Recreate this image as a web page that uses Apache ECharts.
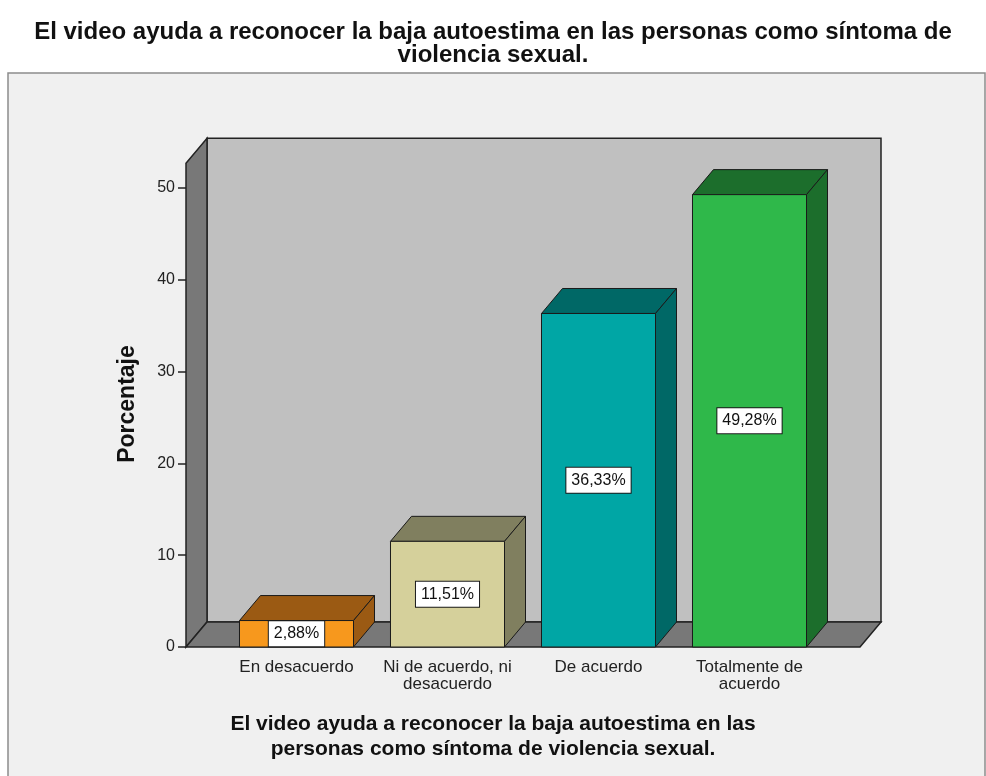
<!DOCTYPE html>
<html>
<head>
<meta charset="utf-8">
<script src="https://cdn.jsdelivr.net/npm/echarts@6/dist/echarts.min.js"></script>
<style>
  html, body { margin: 0; padding: 0; background: #ffffff; }
  #chart { width: 986px; height: 776px; }
</style>
</head>
<body>
<div id="chart"></div>
<script>
// data
const categories = ['En desacuerdo', 'Ni de acuerdo, ni\ndesacuerdo', 'De acuerdo', 'Totalmente de\nacuerdo'];
const percentages = [2.88, 11.51, 36.33, 49.28];
const yTicks = [0, 10, 20, 30, 40, 50];

const frontColors = ['#F7981D', '#D5D09B', '#00A6A5', '#2FB84A'];
const shadeColors = ['#9B5A13', '#807F5F', '#006866', '#1C6E2C'];

const FONT = 'Liberation Sans';
const DX = 21, DY = 25;        // 3d depth
const WALL_TOP = 52.7;         // value where the box ends
const PAD = 35;                // floor beyond the category bands

const chart = echarts.init(document.getElementById('chart'));

const fmt = v => v.toFixed(2).replace('.', ',') + '%';

const renderBox = (params, api) => {
  const cs = params.coordSys;
  const L = cs.x - PAD, R = cs.x + cs.width + PAD;
  const B = api.coord([0, 0])[1];
  const T = api.coord([0, WALL_TOP])[1];
  const edge = { stroke: '#222', lineWidth: 1.5 };
  return {
    type: 'group',
    children: [
      { type: 'polygon', shape: { points: [[L + DX, T - DY], [R + DX, T - DY], [R + DX, B - DY], [L + DX, B - DY]] },
        style: Object.assign({ fill: '#C0C0C0' }, edge) },
      { type: 'polygon', shape: { points: [[L, T], [L + DX, T - DY], [L + DX, B - DY], [L, B]] },
        style: Object.assign({ fill: '#787878' }, edge) },
      { type: 'polygon', shape: { points: [[L, B], [L + DX, B - DY], [R + DX, B - DY], [R, B]] },
        style: Object.assign({ fill: '#787878' }, edge) }
    ]
  };
};

const renderBar = (params, api) => {
  const i = api.value(0);
  const v = api.value(1);
  const c = api.coord([i, v]);
  const b = api.coord([i, 0]);
  const w = api.size([1, 0])[0] * 0.755;
  const x0 = c[0] - w / 2, x1 = c[0] + w / 2;
  const yt = c[1], yb = b[1];
  const edge = { stroke: '#1a1a1a', lineWidth: 1 };
  return {
    type: 'group',
    children: [
      { type: 'polygon', shape: { points: [[x0, yt], [x0 + DX, yt - DY], [x1 + DX, yt - DY], [x1, yt]] },
        style: Object.assign({ fill: shadeColors[i] }, edge) },
      { type: 'polygon', shape: { points: [[x1, yt], [x1 + DX, yt - DY], [x1 + DX, yb - DY], [x1, yb]] },
        style: Object.assign({ fill: shadeColors[i] }, edge) },
      { type: 'rect', shape: { x: x0, y: yt, width: w, height: yb - yt },
        style: Object.assign({ fill: frontColors[i] }, edge) },
      { type: 'text', z2: 10,
        style: {
          x: c[0], y: (yt + yb) / 2, text: fmt(v),
          align: 'center', verticalAlign: 'middle',
          fontFamily: FONT, fontSize: 16, fill: '#111',
          backgroundColor: '#ffffff', borderColor: '#1a1a1a', borderWidth: 1,
          padding: [5, 5, 4, 5]
        } }
    ]
  };
};

option = {
  backgroundColor: '#ffffff',
  animation: false,
  title: [
    {
      text: 'El video ayuda a reconocer la baja autoestima en las personas como síntoma de\nviolencia sexual.',
      left: 'center',
      top: 16,
      textStyle: { fontFamily: FONT, fontSize: 24, fontWeight: 'bold', color: '#111', lineHeight: 23 }
    },
    {
      text: 'El video ayuda a reconocer la baja autoestima en las\npersonas como síntoma de violencia sexual.',
      left: 'center',
      top: 707,
      textStyle: { fontFamily: FONT, fontSize: 21, fontWeight: 'bold', color: '#111', lineHeight: 25 }
    }
  ],
  graphic: [
    {
      type: 'rect', z: -10,
      shape: { x: 8, y: 73, width: 977, height: 720 },
      style: { fill: '#F0F0F0', stroke: '#8c8c8c', lineWidth: 1.5 }
    },
    {
      type: 'text', x: 128, y: 404, rotation: Math.PI / 2,
      style: { text: 'Porcentaje', align: 'center', verticalAlign: 'middle',
        fontFamily: FONT, fontSize: 23, fontWeight: 'bold', fill: '#111' }
    }
  ],
  grid: { left: 221, right: 161, top: 188, bottom: 129 },
  xAxis: {
    type: 'category',
    data: categories,
    axisLine: { show: false },
    axisTick: { alignWithLabel: true, length: 8, lineStyle: { color: '#222', width: 1.5 } },
    axisLabel: { fontFamily: FONT, fontSize: 17, color: '#222', lineHeight: 17, margin: 12, interval: 0 }
  },
  yAxis: {
    type: 'value',
    min: yTicks[0],
    max: yTicks[yTicks.length - 1],
    interval: 10,
    offset: PAD,
    axisLine: { show: false },
    axisTick: { show: true, length: 8, lineStyle: { color: '#222', width: 1.5 } },
    axisLabel: { fontFamily: FONT, fontSize: 16, color: '#222', margin: 11 },
    splitLine: { show: false }
  },
  series: [
    {
      type: 'custom',
      renderItem: renderBox,
      clip: false,
      z: 1,
      silent: true,
      data: [[0, 0]]
    },
    {
      type: 'custom',
      renderItem: renderBar,
      clip: false,
      z: 2,
      encode: { x: 0, y: 1 },
      data: percentages.map((v, i) => [i, v])
    }
  ]
};
chart.setOption(option);
</script>
</body>
</html>
